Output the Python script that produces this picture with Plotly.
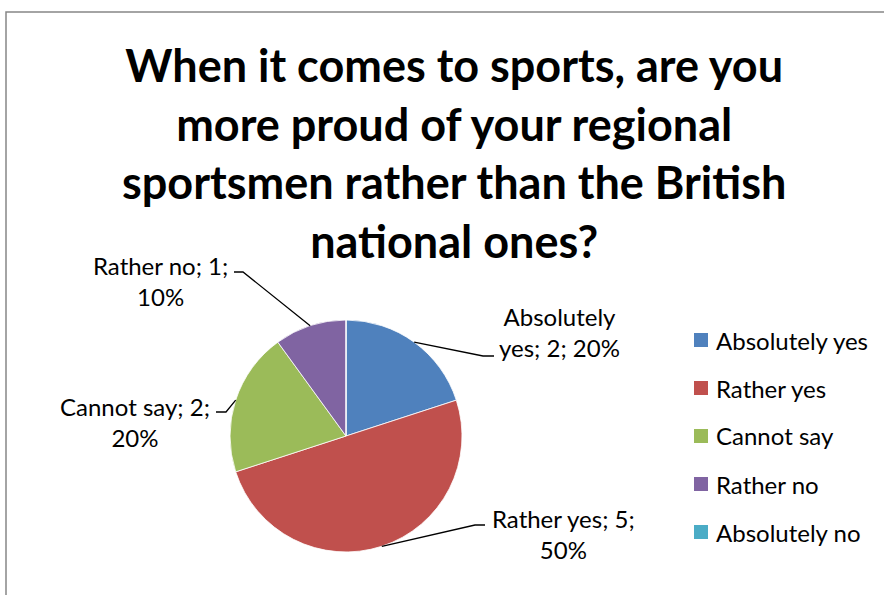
import math
import plotly.graph_objects as go

# Survey answers
categories = ["Absolutely yes", "Rather yes", "Cannot say", "Rather no", "Absolutely no"]
counts = [2, 5, 2, 1, 0]
colors = ["#4F81BD", "#C0504D", "#9BBB59", "#8064A2", "#4BACC6"]

title_lines = [
    "When it comes to sports, are you",
    "more proud of your regional",
    "sportsmen rather than the British",
    "national ones?",
]

W, H = 884, 595
FONT = "Lato"

# Pie geometry in pixels
CX, CY, R = 346, 436, 116


def px(x):
    return x / W


def py(y):
    return 1 - y / H


total = sum(counts)
pcts = [round(100 * c / total) for c in counts]

fig = go.Figure(
    go.Pie(
        labels=categories,
        values=counts,
        marker=dict(colors=colors, line=dict(color="white", width=0.8)),
        sort=False,
        direction="clockwise",
        rotation=0,
        textinfo="none",
        hoverinfo="label+value+percent",
        showlegend=False,
        domain=dict(x=[px(CX - R), px(CX + R)], y=[py(CY + R), py(CY - R)]),
    )
)

shapes = []
annotations = []

# Chart frame
shapes.append(dict(type="rect", xref="paper", yref="paper",
                   x0=px(6), y0=py(12), x1=px(W + 10), y1=py(H + 10),
                   line=dict(color="#868686", width=1.5), fillcolor="rgba(0,0,0,0)"))

# Title
annotations.append(dict(
    text="<b>" + "<br>".join(title_lines) + "</b>",
    xref="paper", yref="paper", x=px(454), y=py(153),
    xanchor="center", yanchor="middle", showarrow=False, align="center",
    font=dict(family=FONT, size=45, color="black"),
))

# Data labels: text block centre, leader elbow and end point (pixels)
label_layout = {
    "Absolutely yes": dict(text_lines=["Absolutely", "yes; {v}; {p}%"], cx=559, cy=332,
                           elbow=(483, 356), end=(494, 356)),
    "Rather yes": dict(text_lines=["Rather yes; {v};", "{p}%"], cx=563, cy=534,
                       elbow=(475, 525), end=(485, 525)),
    "Cannot say": dict(text_lines=["Cannot say; {v};", "{p}%"], cx=135, cy=422,
                       elbow=(226, 412), end=(216, 412)),
    "Rather no": dict(text_lines=["Rather no; {v};", "{p}%"], cx=160, cy=281,
                      elbow=(243, 272), end=(234, 272)),
}

cum = 0
for cat, v, p in zip(categories, counts, pcts):
    mid = (cum + v / 2) / total * 2 * math.pi
    cum += v
    if v == 0 or cat not in label_layout:
        continue
    lay = label_layout[cat]
    ex = CX + R * math.sin(mid)
    ey = CY - R * math.cos(mid)
    (bx, by), (tx, ty) = lay["elbow"], lay["end"]
    shapes.append(dict(type="path", xref="paper", yref="paper",
                       path=f"M {px(ex)},{py(ey)} L {px(bx)},{py(by)} L {px(tx)},{py(ty)}",
                       line=dict(color="black", width=1.3)))
    txt = "<br>".join(s.format(v=v, p=p) for s in lay["text_lines"])
    annotations.append(dict(
        text=txt, xref="paper", yref="paper", x=px(lay["cx"]), y=py(lay["cy"]),
        xanchor="center", yanchor="middle", showarrow=False, align="center",
        font=dict(family=FONT, size=24, color="black"),
    ))

# Legend
LEG_X, LEG_Y0, LEG_STEP, SQ = 694, 340, 48, 14
for i, (cat, col) in enumerate(zip(categories, colors)):
    yc = LEG_Y0 + i * LEG_STEP
    shapes.append(dict(type="rect", xref="paper", yref="paper",
                       x0=px(LEG_X), x1=px(LEG_X + SQ), y0=py(yc + SQ / 2), y1=py(yc - SQ / 2),
                       line=dict(width=0), fillcolor=col))
    annotations.append(dict(
        text=cat, xref="paper", yref="paper", x=px(LEG_X + 20), y=py(yc),
        xanchor="left", yanchor="middle", showarrow=False,
        font=dict(family=FONT, size=24, color="black"),
    ))

fig.update_layout(
    width=W, height=H,
    margin=dict(l=0, r=0, t=0, b=0),
    paper_bgcolor="white", plot_bgcolor="white",
    shapes=shapes, annotations=annotations,
)

fig.write_html("out.html")
